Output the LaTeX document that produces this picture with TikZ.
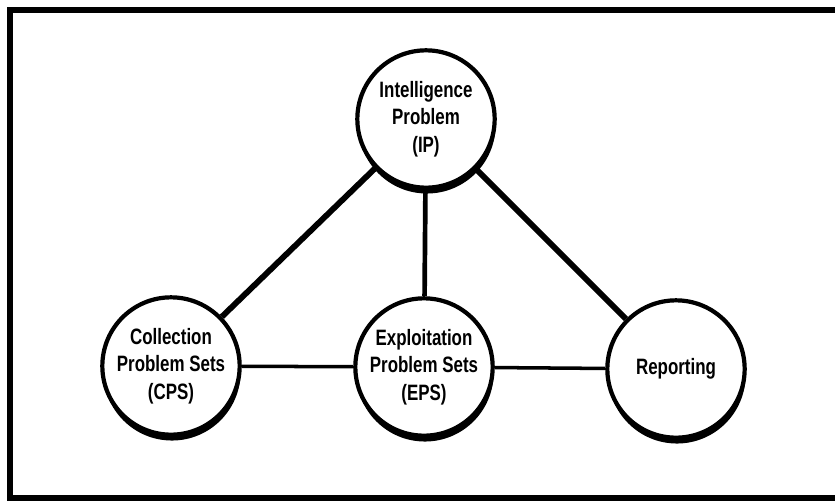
\documentclass[tikz,border=0pt]{standalone}
\usepackage{fontspec}
\newfontfamily\lblfont[FakeStretch=0.76]{Liberation Sans}
\usepackage{tikz}
\usetikzlibrary{shadows}

\begin{document}
\begin{tikzpicture}[x=0.03cm,y=-0.03cm,
  bubble/.style={circle,draw,line width=3.6pt,fill=white,minimum size=4.12cm,inner sep=0pt,
    align=center,font=\lblfont\bfseries\fontsize{19}{23.5}\selectfont,
    general shadow={fill=black,shadow xshift=0.8pt,shadow yshift=-5pt}},
  heavy/.style={line width=5pt},
  thin link/.style={line width=3pt}]
\useasboundingbox (0,0) rectangle (835,500);
\draw[line width=4.3pt] (850,10) -- (10,10) -- (10,498) -- (850,498);
\node[bubble] (ip) at (426,119) {Intelligence\\Problem\\(IP)};
\node[bubble] (cps) at (171,366) {Collection\\Problem Sets\\(CPS)};
\node[bubble] (eps) at (424,367) {Exploitation\\Problem Sets\\(EPS)};
\node[bubble] (rep) at (676,369) {Reporting};
\draw[heavy] (ip) -- (cps);
\draw[heavy] (ip) -- (rep);
\draw[line width=4pt] (ip) -- (eps);
\draw[thin link] (cps) -- (eps);
\draw[thin link] (eps) -- (rep);
\end{tikzpicture}
\end{document}
